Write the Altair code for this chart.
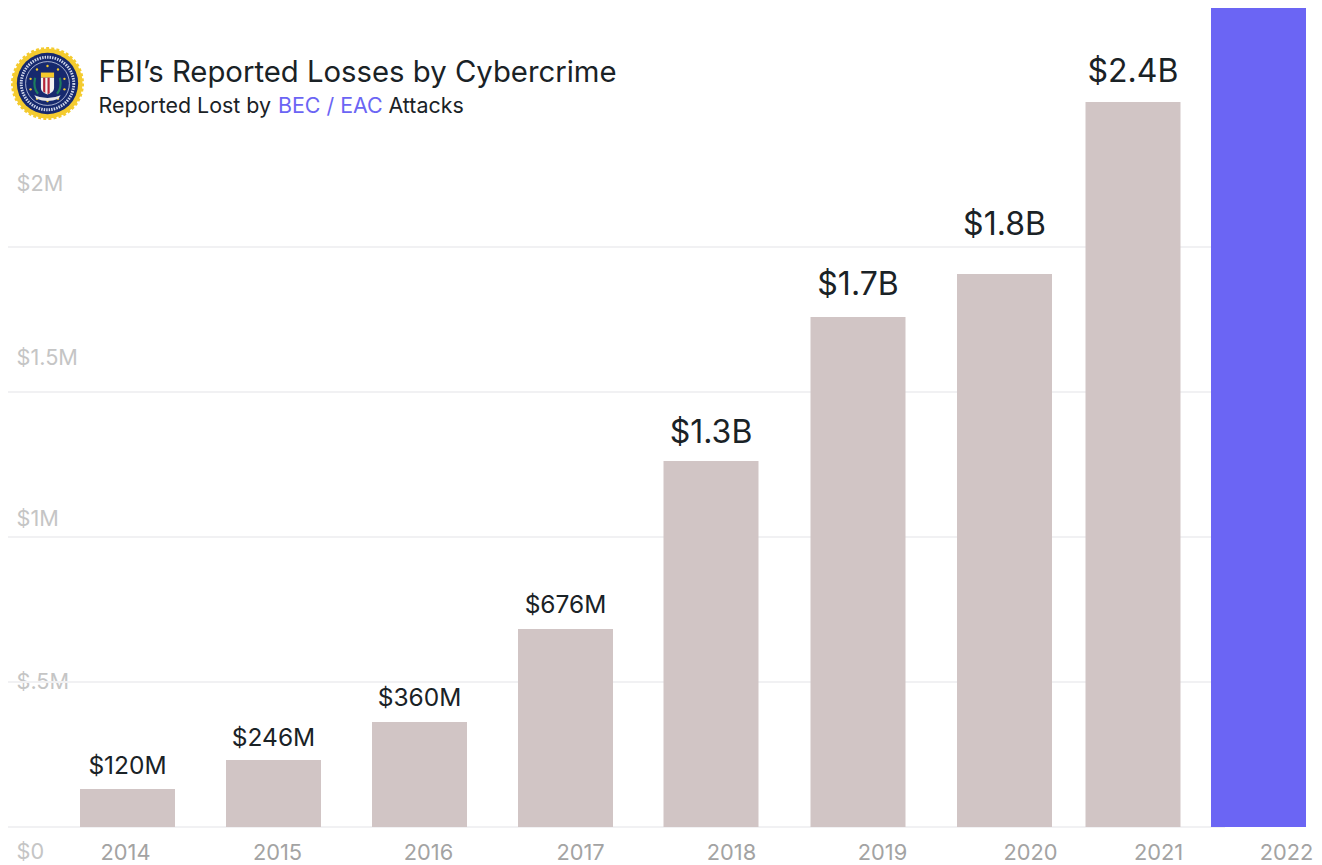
import base64
import altair as alt
import pandas as pd

# ---- values ----
years = [2014, 2015, 2016, 2017, 2018, 2019, 2020, 2021, 2022]
reported = [0.131, 0.231, 0.362, 0.683, 1.262, 1.759, 1.907, 2.5, 2.824]
bar_labels = ["$120M", "$246M", "$360M", "$676M", "$1.3B", "$1.7B", "$1.8B", "$2.4B", ""]
y_ticks = [0, 0.5, 1, 1.5, 2]

df = pd.DataFrame({"year": years, "reported": reported, "label": bar_labels})
df["highlight"] = df["year"] == 2022
ticks = pd.DataFrame({"tick": y_ticks})

FONT = "Inter"
INK = "#1a2226"
PURPLE = "#6b65f4"
BAR = "#d1c5c5"

# page position minus the 8px margin
bar_x = alt.Scale(domain=years, range=[119.5, 265.5, 411.5, 557.5, 703, 850, 996.5, 1125, 1250.5], padding=0)
year_x = alt.Scale(domain=years, range=[117, 269, 420, 572, 723, 874, 1022, 1150, 1278], padding=0)
value_y = alt.Scale(domain=[0, 2], range=[819, 239], nice=False, zero=False, padding=0)
tick_label_y = alt.Scale(domain=y_ticks, range=[843, 673, 510, 349, 175], nice=False, zero=False, padding=0)
text_y = alt.Scale(domain=reported[:8], range=[766, 738, 698, 605, 435, 287, 227, 74], nice=False, zero=False, padding=0)

grid = alt.Chart(ticks).mark_rule(color="#f1f1f3", strokeWidth=2).encode(
    x=alt.value(0),
    x2=alt.value(1217),
    y=alt.Y("tick:Q", scale=value_y, axis=None),
)

bars = alt.Chart(df).mark_bar(size=95, orient="vertical").encode(
    x=alt.X("year:Q", scale=bar_x, axis=None),
    y=alt.Y("reported:Q", scale=value_y, axis=None, stack=None),
    color=alt.Color("highlight:N", scale=alt.Scale(domain=[False, True], range=[BAR, PURPLE]), legend=None),
)


def value_text(test, size):
    return alt.Chart(df).transform_filter(test).mark_text(
        font=FONT, fontSize=size, color=INK, align="center", baseline="alphabetic"
    ).encode(
        x=alt.X("year:Q", scale=bar_x, axis=None),
        y=alt.Y("reported:Q", scale=text_y, axis=None),
        text="label:N",
    )


small = value_text("datum.year <= 2017", 24.5)
large = value_text("datum.year > 2017 && datum.year < 2022", 32)

year_axis = alt.Chart(df).mark_text(opacity=0, text=".").encode(
    x=alt.X("year:Q", scale=year_x, axis=alt.Axis(
        values=years, format="d", title=None, grid=False, domain=False, ticks=False,
        labelFont=FONT, labelFontSize=21.8, labelColor="#a3a3a3", labelPadding=15,
        labelOverlap=False, labelFlush=False,
    )),
    y=alt.value(0),
)

y_axis = alt.Chart(ticks).mark_text(opacity=0, text=".").encode(
    y=alt.Y("tick:Q", scale=tick_label_y, axis=alt.Axis(
        values=y_ticks, title=None, grid=False, domain=False, ticks=False,
        labelFont=FONT, labelFontSize=21.7, labelColor="#c5c5c5", labelAlign="left",
        labelBaseline="middle", labelPadding=-8, labelOverlap=False, labelFlush=False,
        labelExpr="datum.value == 0 ? '$0' : datum.value == 0.5 ? '$.5M' : '$' + datum.value + 'M'",
    )),
    x=alt.value(0),
)


def note(txt, x, y, size, color=INK):
    return alt.Chart(pd.DataFrame({"t": [txt]})).mark_text(
        font=FONT, fontSize=size, color=color, align="left", baseline="alphabetic"
    ).encode(x=alt.value(x), y=alt.value(y), text="t:N")


title = note("FBI\u2019s Reported Losses by Cybercrime", 90.5, 74, 29.3)
sub1 = note("Reported Lost by", 90.5, 105, 21.4)
sub2 = note("BEC / EAC", 270, 105, 21.4, PURPLE)
sub3 = note("Attacks", 380.5, 105, 21.4)

stars = "".join(
    f'<circle cx="{x}" cy="{y}" r="2" fill="#f4c92c"/>'
    for x, y in [(50, 20), (68, 26), (79, 42), (79, 60), (68, 76), (50, 80), (32, 76), (21, 60), (21, 42), (32, 26)]
)
seal_svg = f'''<svg xmlns="http://www.w3.org/2000/svg" viewBox="0 0 100 100">
<circle cx="50" cy="50" r="48" fill="#f4cb2f" stroke="#f4cb2f" stroke-width="4" stroke-dasharray="4 3"/>
<circle cx="50" cy="50" r="46" fill="#f4cb2f"/>
<circle cx="50" cy="50" r="42" fill="#16296e"/>
<circle cx="50" cy="50" r="30" fill="none" stroke="#dfe4f2" stroke-width="1"/>
<circle cx="50" cy="50" r="36" fill="none" stroke="#cfd6ea" stroke-width="4" stroke-dasharray="2 1.5"/>
<g transform="translate(50 50) scale(.8) translate(-50 -50)">{stars}</g>
<rect x="41" y="35" width="18" height="7" fill="#f4c92c"/>
<path d="M41 42h18v14q0 6-9 9q-9-3-9-9z" fill="#f3f3f3"/>
<path d="M44 42h3v21l-3-2zM50 42h3v21l-3 2z" fill="#b3263a"/>
<path d="M33 42q-3 14 4 22M67 42q3 14-4 22" fill="none" stroke="#1d7d5f" stroke-width="3"/>
<path d="M32 66q18 8 36 0l-3 5q-15 6-30 0z" fill="#e6e6e6"/>
</svg>'''
seal_url = "data:image/svg+xml;base64," + base64.b64encode(seal_svg.encode()).decode()
seal = alt.Chart(pd.DataFrame({"u": [seal_url]})).mark_image(
    width=73, height=73, align="center", baseline="middle"
).encode(x=alt.value(39.5), y=alt.value(75.5), url="u:N")

chart = alt.layer(
    grid, bars, small, large, year_axis, y_axis, seal, title, sub1, sub2, sub3
).resolve_scale(x="independent", y="independent", color="independent").properties(
    width=1306,
    height=819,
    padding={"left": 0, "top": 0, "right": 0, "bottom": 38},
    autosize=alt.AutoSizeParams(type="none", contains="content"),
    background="#ffffff",
).configure_view(stroke=None)

chart.save("out.html", embed_options={"renderer": "svg", "actions": False})
